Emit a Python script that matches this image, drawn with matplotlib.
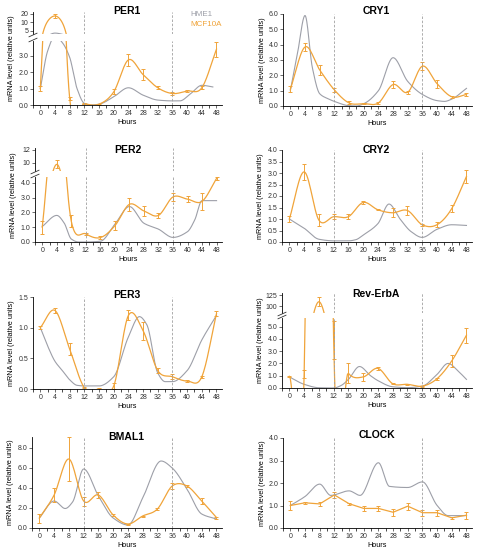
import numpy as np
import matplotlib
matplotlib.use("Agg")
import matplotlib.pyplot as plt
from matplotlib.lines import Line2D
from matplotlib.ticker import MultipleLocator, FixedLocator, NullLocator, FormatStrFormatter

plt.rcParams['font.family'] = ['Liberation Sans', 'DejaVu Sans']

# MCF10A sampling times (hours)
hours = [0, 4, 8, 12, 16, 20, 24, 28, 32, 36, 40, 44, 48]

# --- values ---
# HME1 (grey, no markers): own time grid so the curve shape follows the picture
per1_hme1_t = [0, 2, 4, 6, 8, 10, 12, 14, 16, 20, 24, 28, 32, 36, 38, 41, 44, 47]
per1_hme1 = [1.0, 3.3, 4.2, 3.8, 2.9, 1.0, 0.1, 0.0, 0.05, 0.5, 1.05, 0.6, 0.3, 0.25, 0.25, 0.7, 1.2, 1.1]
per1_mcf = [1.0, 17.0, 0.4, 0.08, 0.05, 0.8, 2.75, 1.85, 1.05, 0.7, 0.85, 1.05, 3.4]
per1_err = [0.15, 3.0, 0.08, 0.03, 0.03, 0.15, 0.35, 0.35, 0.1, 0.1, 0.05, 0.1, 0.45]

cry1_hme1_t = [0, 2, 4, 6, 8, 10, 12, 16, 18, 20, 24, 28, 32, 36, 40, 42, 44, 48]
cry1_hme1 = [1.0, 3.5, 5.9, 2.5, 0.8, 0.5, 0.3, 0.02, 0.0, 0.15, 1.0, 3.15, 1.6, 0.75, 0.35, 0.3, 0.45, 1.15]
cry1_mcf = [1.1, 3.85, 2.35, 1.05, 0.2, 0.15, 0.2, 1.4, 0.9, 2.6, 1.45, 0.6, 0.75]
cry1_err = [0.2, 0.25, 0.3, 0.15, 0.1, 0.05, 0.05, 0.25, 0.1, 0.25, 0.25, 0.05, 0.1]

per2_hme1_t = [0, 4, 6, 8, 10, 12, 16, 20, 24, 28, 32, 36, 40, 42, 44, 48]
per2_hme1 = [1.05, 1.8, 1.3, 0.2, 0.0, 0.0, 0.05, 1.2, 2.4, 1.27, 0.87, 0.31, 0.7, 1.5, 2.8, 2.8]
per2_mcf = [1.0, 9.8, 1.4, 0.55, 0.3, 1.1, 2.55, 2.1, 1.8, 3.05, 2.9, 2.75, 4.3]
per2_err = [0.45, 0.6, 0.4, 0.05, 0.1, 0.3, 0.45, 0.35, 0.15, 0.3, 0.2, 0.55, 0.1]

cry2_hme1_t = [0, 4, 8, 12, 16, 18, 20, 24, 27, 30, 33, 36, 40, 44, 48]
cry2_hme1 = [1.0, 0.6, 0.12, 0.05, 0.05, 0.1, 0.3, 0.8, 1.65, 1.0, 0.45, 0.2, 0.55, 0.75, 0.72]
cry2_mcf = [1.0, 3.05, 0.95, 1.1, 1.1, 1.72, 1.4, 1.27, 1.37, 0.75, 0.75, 1.45, 2.85]
cry2_err = [0.15, 0.35, 0.25, 0.1, 0.1, 0.08, 0.03, 0.2, 0.2, 0.05, 0.1, 0.15, 0.3]

per3_hme1_t = [0, 2, 4, 6, 8, 10, 12, 16, 20, 24, 27, 29, 32, 34, 36, 40, 44, 48]
per3_hme1 = [1.0, 0.7, 0.45, 0.3, 0.15, 0.06, 0.05, 0.05, 0.2, 0.85, 1.18, 1.05, 0.26, 0.12, 0.12, 0.3, 0.8, 1.2]
per3_mcf = [1.0, 1.28, 0.65, 0.02, 0.0, 0.05, 1.2, 0.95, 0.3, 0.2, 0.13, 0.2, 1.23]
per3_err = [0.02, 0.04, 0.1, 0.01, 0.01, 0.05, 0.08, 0.15, 0.04, 0.04, 0.01, 0.02, 0.04]

reverba_hme1_t = [0, 4, 8, 12, 14, 16, 19, 22, 24, 28, 32, 36, 40, 43, 46, 48]
reverba_hme1 = [0.9, 0.3, 0.02, 0.0, 0.2, 0.7, 1.75, 1.0, 0.6, 0.1, 0.03, 0.15, 1.1, 2.0, 1.3, 0.7]
reverba_mcf = [0.95, 1.15, 110.0, 3.9, 1.2, 0.9, 1.6, 0.35, 0.3, 0.15, 0.75, 2.2, 4.3]
reverba_err = [0.05, 0.3, 10.0, 1.55, 0.8, 0.3, 0.1, 0.05, 0.05, 0.05, 0.1, 0.5, 0.6]

bmal1_hme1_t = [0, 4, 7, 9, 12, 16, 20, 24, 28, 33, 36, 40, 44, 48]
bmal1_hme1 = [1.0, 2.7, 1.95, 2.6, 5.9, 3.2, 1.0, 0.3, 3.0, 6.7, 6.0, 3.9, 1.4, 0.9]
bmal1_mcf = [1.0, 3.3, 6.9, 2.7, 3.3, 1.3, 0.4, 1.2, 1.9, 4.2, 4.2, 2.7, 1.05]
bmal1_err = [0.45, 0.7, 2.2, 0.45, 0.3, 0.1, 0.05, 0.05, 0.1, 0.3, 0.1, 0.3, 0.1]

clock_hme1_t = [0, 4, 8, 11, 16, 19, 24, 27, 32, 36, 40, 43, 48]
clock_hme1 = [1.0, 1.4, 1.95, 1.45, 1.65, 1.45, 2.9, 1.85, 1.8, 2.05, 1.0, 0.55, 0.55]
clock_mcf = [1.0, 1.12, 1.07, 1.47, 1.08, 0.87, 0.87, 0.7, 0.97, 0.68, 0.68, 0.45, 0.57]
clock_err = [0.18, 0.05, 0.08, 0.15, 0.05, 0.13, 0.13, 0.15, 0.15, 0.13, 0.13, 0.05, 0.15]

ORANGE = '#F0A43A'
GREY = '#9d9fa8'
W, H = 480, 552
XLIM = (-2, 49.5)

fig = plt.figure(figsize=(W / 100, H / 100), dpi=100)


def box(x0, y0, x1, y1):
    """pixel box (top-left origin) -> figure rect"""
    return [x0 / W, 1 - y1 / H, (x1 - x0) / W, (y1 - y0) / H]


def catmull(x, y, n=16):
    # smoothed line through the points (spreadsheet style)
    P = np.column_stack([x, y]).astype(float)
    P = np.vstack([2 * P[0] - P[1], P, 2 * P[-1] - P[-2]])
    t = np.linspace(0, 1, n, endpoint=False)[:, None]
    out = []
    for i in range(1, len(P) - 2):
        p0, p1, p2, p3 = P[i - 1], P[i], P[i + 1], P[i + 2]
        out.append(0.5 * (2 * p1 + (-p0 + p2) * t + (2 * p0 - 5 * p1 + 4 * p2 - p3) * t ** 2
                          + (-p0 + 3 * p1 - 3 * p2 + p3) * t ** 3))
    out.append(P[-2][None, :])
    out = np.vstack(out)
    return out[:, 0], out[:, 1]


def pchip(x, y, n=600):
    # monotone cubic through the grey curve nodes
    x = np.asarray(x, float)
    y = np.asarray(y, float)
    h = np.diff(x)
    d = np.diff(y) / h
    m = np.zeros_like(y)
    m[0], m[-1] = d[0], d[-1]
    for k in range(1, len(x) - 1):
        if d[k - 1] * d[k] > 0:
            w1 = 2 * h[k] + h[k - 1]
            w2 = h[k] + 2 * h[k - 1]
            m[k] = (w1 + w2) / (w1 / d[k - 1] + w2 / d[k])
    xs = np.linspace(x[0], x[-1], n)
    k = np.clip(np.searchsorted(x, xs) - 1, 0, len(x) - 2)
    s = (xs - x[k]) / h[k]
    h00 = 2 * s ** 3 - 3 * s ** 2 + 1
    h10 = s ** 3 - 2 * s ** 2 + s
    h01 = -2 * s ** 3 + 3 * s ** 2
    h11 = s ** 3 - s ** 2
    ys = h00 * y[k] + h10 * h[k] * m[k] + h01 * y[k + 1] + h11 * h[k] * m[k + 1]
    return xs, ys


def draw(ax, gt, hme, mcf, err, curved, keep):
    gx, gy = pchip(gt, hme)
    ax.plot(gx, gy, color=GREY, lw=0.8)
    ox, oy = catmull(hours, mcf) if curved else (hours, mcf)
    ax.plot(ox, oy, color=ORANGE, lw=0.9)
    idx = [i for i in range(len(hours)) if keep(mcf[i])]
    ax.errorbar([hours[i] for i in idx], [mcf[i] for i in idx], yerr=[err[i] for i in idx],
                fmt='none', ecolor=ORANGE, elinewidth=0.7, capsize=1.6, capthick=0.7)
    for v in (12, 36):
        ax.axvline(v, color='#a0a0a0', lw=0.6, ls=(0, (3, 2)))
    ax.set_xlim(*XLIM)
    for s in ('top', 'right'):
        ax.spines[s].set_visible(False)
    ax.tick_params(labelsize=5, length=2, width=0.5, pad=1.5, colors='#333333')
    for s in ax.spines.values():
        s.set_linewidth(0.6)


def panel(x0, x1, y0, y1, title, ty, gt, hme, mcf, err, ylim, yticks, upper=None, curved=True):
    ax = fig.add_axes(box(x0, y0, x1, y1))
    draw(ax, gt, hme, mcf, err, curved, lambda v: v <= ylim[1])
    ax.set_ylim(*ylim)
    ax.set_yticks(yticks)
    ax.yaxis.set_major_formatter(FormatStrFormatter('%.1f'))
    ax.set_xticks(range(0, 49, 4))
    ax.xaxis.set_minor_locator(MultipleLocator(2))
    ax.tick_params(which='minor', length=2, width=0.5)
    ax.set_xlabel('Hours', fontsize=5.2, labelpad=1.5)
    top = y0
    if upper is not None:
        uy0, uy1, ulim, uticks, log = upper
        ua = fig.add_axes(box(x0, uy0, x1, uy1))
        draw(ua, gt, hme, mcf, err, curved, lambda v: v > ylim[1])
        ua.spines['bottom'].set_visible(False)
        ua.set_xticks([])
        if log:
            ua.set_yscale('log')
        ua.set_ylim(*ulim)
        ua.yaxis.set_major_locator(FixedLocator(uticks))
        ua.yaxis.set_minor_locator(NullLocator())
        ua.set_yticklabels([str(u) for u in uticks])
        top = uy0
        # break marks on the y axis
        for yy in (uy1 + 1.0, y0 - 1.0):
            fig.add_artist(Line2D([(x0 - 4) / W, (x0 + 4) / W],
                                  [1 - (yy + 1.8) / H, 1 - (yy - 1.8) / H],
                                  color='#333333', lw=0.6))
    fig.text((x0 + x1) / 2 / W - 1 / W, 1 - ty / H, title, fontsize=7.5,
             fontweight='bold', ha='center', va='center')
    fig.text((x0 - 21) / W, 1 - ((top + y1) / 2) / H, 'mRNA level (relative units)',
             rotation=90, fontsize=5.2, ha='center', va='center')
    return ax


# left column
panel(33, 222, 41, 105, 'PER1', 11, per1_hme1_t, per1_hme1, per1_mcf, per1_err,
      (0, 3.9), [0, 1, 2, 3], upper=(12, 34, (3.9, 23.5), [5, 10, 20], True))
panel(35, 222, 177, 242, 'PER2', 150, per2_hme1_t, per2_hme1, per2_mcf, per2_err,
      (0, 4.4), [0, 1, 2, 3, 4], upper=(148, 171, (8.77, 12.3), [10, 12], False))
panel(33, 222, 297, 389, 'PER3', 295, per3_hme1_t, per3_hme1, per3_mcf, per3_err,
      (0, 1.5), [0, 0.5, 1.0, 1.5])
panel(32, 222, 437, 528, 'BMAL1', 437, bmal1_hme1_t, bmal1_hme1, bmal1_mcf, bmal1_err,
      (0, 9.1), [0, 2, 4, 6, 8])

# right column
panel(283, 472, 14, 106, 'CRY1', 11, cry1_hme1_t, cry1_hme1, cry1_mcf, cry1_err,
      (0, 6.0), [0, 1, 2, 3, 4, 5, 6])
panel(282, 472, 150, 242, 'CRY2', 150, cry2_hme1_t, cry2_hme1, cry2_mcf, cry2_err,
      (0, 4.0), [0, 0.5, 1.0, 1.5, 2.0, 2.5, 3.0, 3.5, 4.0])
panel(282, 472, 318, 388, 'Rev-ErbA', 294, reverba_hme1_t, reverba_hme1, reverba_mcf, reverba_err,
      (0, 5.7), [0, 1, 2, 3, 4, 5], upper=(293, 313, (84, 130), [100, 125], False))
panel(283, 472, 438, 528, 'CLOCK', 435, clock_hme1_t, clock_hme1, clock_mcf, clock_err,
      (0, 4.0), [0, 1, 2, 3, 4], curved=False)

# legend text in the PER1 panel
fig.text(190 / W, 1 - 15 / H, 'HME1', color=GREY, fontsize=5.8, va='center')
fig.text(190 / W, 1 - 25 / H, 'MCF10A', color=ORANGE, fontsize=5.8, va='center')

fig.savefig('out.png', dpi=100)
